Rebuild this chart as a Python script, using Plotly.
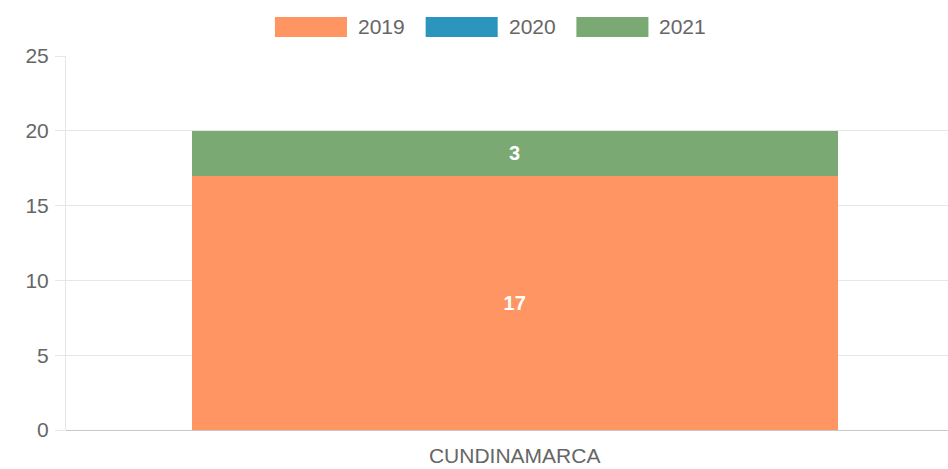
import plotly.graph_objects as go

categories = ["CUNDINAMARCA"]
series_names = ["2019", "2020", "2021"]
values_2019 = [17]
values_2020 = [0]
values_2021 = [3]
colors = ["#FF9562", "#2B95BE", "#7AA974"]
y_ticks = [0, 5, 10, 15, 20, 25]

series_values = [values_2019, values_2020, values_2021]

FONT = "Liberation Sans"
fig = go.Figure()
for name, vals, col in zip(series_names, series_values, colors):
    fig.add_trace(go.Bar(
        x=categories, y=vals, name=name,
        marker=dict(color=col, line=dict(width=0)),
        text=[str(v) if v else "" for v in vals],
        textposition="inside", insidetextanchor="middle",
        textfont=dict(color="white", size=20, family=FONT),
        texttemplate="<b>%{text}</b>",
        showlegend=False,
    ))

# custom legend (wide colour boxes like the original)
box_w, step = 0.076, 0.159
start = 0.290
for i, (name, col) in enumerate(zip(series_names, colors)):
    x0 = start + i * step
    fig.add_shape(type="rect", xref="paper", yref="paper",
                  x0=(x0 * 948 - 66) / 882, x1=((x0 + box_w) * 948 - 66) / 882,
                  y0=(430 - 37) / 374, y1=(430 - 17) / 374,
                  fillcolor=col, line=dict(width=0))
    fig.add_annotation(xref="paper", yref="paper",
                       x=((x0 + box_w) * 948 + 9 - 66) / 882, y=(430 - 27) / 374,
                       text=name, showarrow=False, xanchor="left", yanchor="middle",
                       font=dict(size=21, color="#666666", family=FONT))

fig.update_layout(
    barmode="stack",
    bargap=0.28,
    width=948, height=469,
    margin=dict(l=66, r=0, t=56, b=39),
    plot_bgcolor="white", paper_bgcolor="white",
    font=dict(family=FONT, color="#666666", size=21),
    xaxis=dict(range=[-0.5, 0.483], showgrid=False, showline=False,
               ticks="", ticklabelstandoff=11, automargin=False,
               tickfont=dict(size=21, color="#666666")),
    yaxis=dict(range=[0, 25], tickvals=y_ticks, showgrid=True,
               gridcolor="#E6E6E6", gridwidth=1, automargin=False,
               zeroline=True, zerolinecolor="#C8C8C8", zerolinewidth=1,
               showline=True, linecolor="#E6E6E6", linewidth=1,
               ticks="outside", ticklen=10, tickcolor="#E6E6E6",
               ticklabelstandoff=2,
               tickfont=dict(size=21, color="#666666")),
)

fig.write_html("out.html", config={"displayModeBar": False},
               post_script="document.body.style.margin='0';")
